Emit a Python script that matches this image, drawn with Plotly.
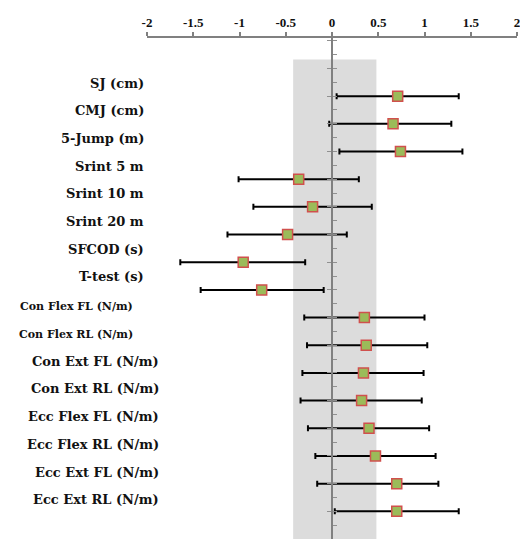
import plotly.graph_objects as go

labels = ["SJ (cm)", "CMJ (cm)", "5-Jump (m)", "Srint 5 m", "Srint 10 m", "Srint 20 m",
          "SFCOD (s)", "T-test (s)", "Con Flex FL (N/m)", "Con Flex RL (N/m)",
          "Con Ext FL (N/m)", "Con Ext RL (N/m)", "Ecc Flex FL (N/m)", "Ecc Flex RL (N/m)",
          "Ecc Ext FL (N/m)", "Ecc Ext RL (N/m)"]
effect = [0.71, 0.66, 0.74, -0.36, -0.21, -0.48, -0.96, -0.76,
          0.35, 0.37, 0.34, 0.32, 0.40, 0.47, 0.70, 0.70]
ci_low = [0.05, -0.03, 0.08, -1.01, -0.85, -1.13, -1.64, -1.42,
          -0.30, -0.27, -0.32, -0.34, -0.26, -0.18, -0.16, 0.03]
ci_high = [1.37, 1.29, 1.41, 0.29, 0.43, 0.16, -0.29, -0.09,
           1.00, 1.03, 0.99, 0.97, 1.05, 1.12, 1.15, 1.37]
x_ticks = [-2, -1.5, -1, -0.5, 0, 0.5, 1, 1.5, 2]
band = [-0.42, 0.48]

rows = list(range(len(labels)))

fig = go.Figure()
fig.add_shape(type="rect", xref="x", yref="y", x0=band[0], x1=band[1], y0=-1.32, y1=16.5,
              fillcolor="#dcdcdc", line_width=0, layer="below")

fig.add_trace(go.Scatter(
    x=effect, y=rows, mode="markers",
    marker=dict(symbol="square", size=10, color="#9bbb59",
                line=dict(color="#d0504d", width=1.5)),
    error_x=dict(type="data", symmetric=False,
                 array=[h - e for h, e in zip(ci_high, effect)],
                 arrayminus=[e - l for e, l in zip(effect, ci_low)],
                 color="black", thickness=2, width=3),
    showlegend=False, cliponaxis=False, hoverinfo="skip"))

for i, lab in enumerate(labels):
    if i < 8:
        xr, fs, off = -0.004, 13, -0.47
    elif i < 10:
        xr, fs, off = -0.033, 11, -0.4
    else:
        xr, fs, off = 0.037, 13, -0.42
    fig.add_annotation(x=xr, y=i + off, xref="paper", yref="y", text=lab, showarrow=False,
                       xanchor="right", yanchor="middle",
                       font=dict(family="DejaVu Serif", size=fs, color="#111", weight="bold"))

fig.update_layout(
    width=520, height=539,
    margin=dict(l=147, r=0, t=38, b=0),
    plot_bgcolor="white", paper_bgcolor="white",
    xaxis=dict(range=[-2, 2], side="top", tickvals=x_ticks,
               ticktext=[f"{v:g}" for v in x_ticks], ticklabeloverflow="allow",
               showgrid=False, zeroline=False, showline=True, linecolor="#808080", linewidth=2,
               ticks="outside", ticklen=4, tickcolor="#808080", tickwidth=1.5,
               tickfont=dict(family="Liberation Serif", size=13, color="#111", weight="bold")),
    yaxis=dict(range=[16.0, -2.1], anchor="free", position=0.5, showgrid=False, zeroline=False,
               showline=True, linecolor="#808080", linewidth=2, showticklabels=False,
               tickmode="linear", tick0=0, dtick=1, ticks="outside", ticklen=4,
               tickcolor="#909090", tickwidth=1,
               minor=dict(dtick=0.5, ticks="inside", ticklen=4, tickcolor="#909090")),
)

fig.write_html("out.html", config={"displayModeBar": False},
               post_script="document.body.style.margin='0';document.body.style.overflow='hidden';")
